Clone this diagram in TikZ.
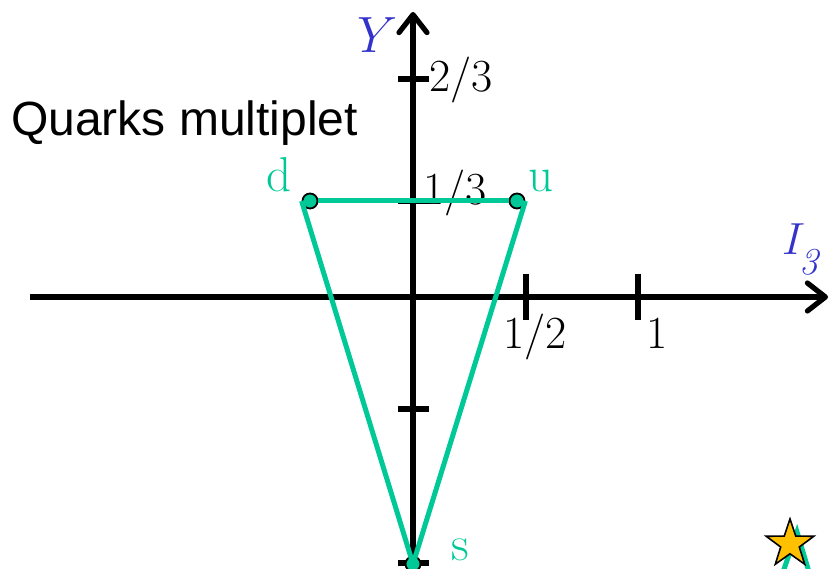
\documentclass[tikz,border=0pt]{standalone}
\usepackage{fix-cm}
\usepackage{fontspec}
\newfontfamily\sansf{Liberation Sans}
\usetikzlibrary{arrows.meta,shapes.geometric}
\definecolor{qgreen}{RGB}{0,201,151}
\definecolor{qblue}{RGB}{51,51,204}
\definecolor{qstar}{RGB}{255,192,0}
\begin{document}
\begin{tikzpicture}[x=1pt,y=-1pt,
  axisline/.style={line width=5.2pt,-{Straight Barb[length=18pt,width=28pt,line cap=round,line join=round]}},
  tick/.style={line width=5.2pt},
  num/.style={inner sep=0pt,anchor=base west,font=\fontsize{46}{50}\selectfont},
  qlabel/.style={inner sep=0pt,anchor=base west,text=qgreen,font=\fontsize{49}{52}\selectfont},
  qdot/.style={circle,fill=qgreen,draw=black,line width=1.8pt,minimum size=15pt,inner sep=0pt},
  qline/.style={draw=qgreen,line width=5pt,line join=miter}
]
\useasboundingbox (0,0) rectangle (831,569);
% axes
\coordinate (xs) at (30,297);
\coordinate (xe) at (828,297);
\coordinate (ys) at (413,575);
\coordinate (ye) at (413,12);
\draw[axisline] (xs) -- (xe);
\draw[axisline] (ys) -- (ye);
% ticks on Y axis
\foreach \yy/\nm in {79/t23,201/t13,409/tm13,563/tm23}{
  \coordinate (\nm l) at (398,\yy);
  \coordinate (\nm r) at (429,\yy);
  \draw[tick] (\nm l) -- (\nm r);
}
% ticks on I3 axis
\foreach \xx/\nm in {526/th,638/tone}{
  \coordinate (\nm t) at (\xx,274);
  \coordinate (\nm b) at (\xx,320);
  \draw[tick] (\nm t) -- (\nm b);
}
% axis labels
\node[inner sep=0pt,anchor=base west,text=qblue,font=\fontsize{51}{54}\selectfont] (ylab) at (357,53) {$Y$};
\node[inner sep=0pt,anchor=base west,text=qblue,font=\fontsize{45}{48}\selectfont] (xlab) at (782,255) {$I$\hspace{-6pt}\raisebox{-19.5pt}{\fontsize{38}{40}\selectfont\itshape 3}};
% numbers
\node[num] (n23) at (429,92) {2/3};
\node[num] (n13) at (423,205) {1/3};
\node[num] (n12) at (503,349) {1/2};
\node[num] (n1) at (646,349) {1};
% title
\node[inner sep=0pt,anchor=base west,font=\sansf\fontsize{48}{50}\selectfont] (title) at (11,136) {Quarks multiplet};
% star and partial mark
\draw[qgreen,line width=5pt] (783,572) -- (797,532) -- (809,572);
\node[star,star points=5,star point ratio=2.55,minimum size=50pt,inner sep=0pt,fill=qstar,draw=black,line width=1.6pt] (star) at (790,544) {};
% quark points
\node[qdot] (d) at (310,201) {};
\node[qdot] (u) at (517,201) {};
\node[qdot] (s) at (413,564) {};
\node[qlabel] (dl) at (266,192) {d};
\node[qlabel] (ul) at (528,192) {u};
\node[qlabel] (sl) at (451,561) {s};
% triangle
\draw[qline] (d) -- (u);
\draw[qline] (d.west) -- (s.center) -- (u.east);
\end{tikzpicture}
\end{document}
